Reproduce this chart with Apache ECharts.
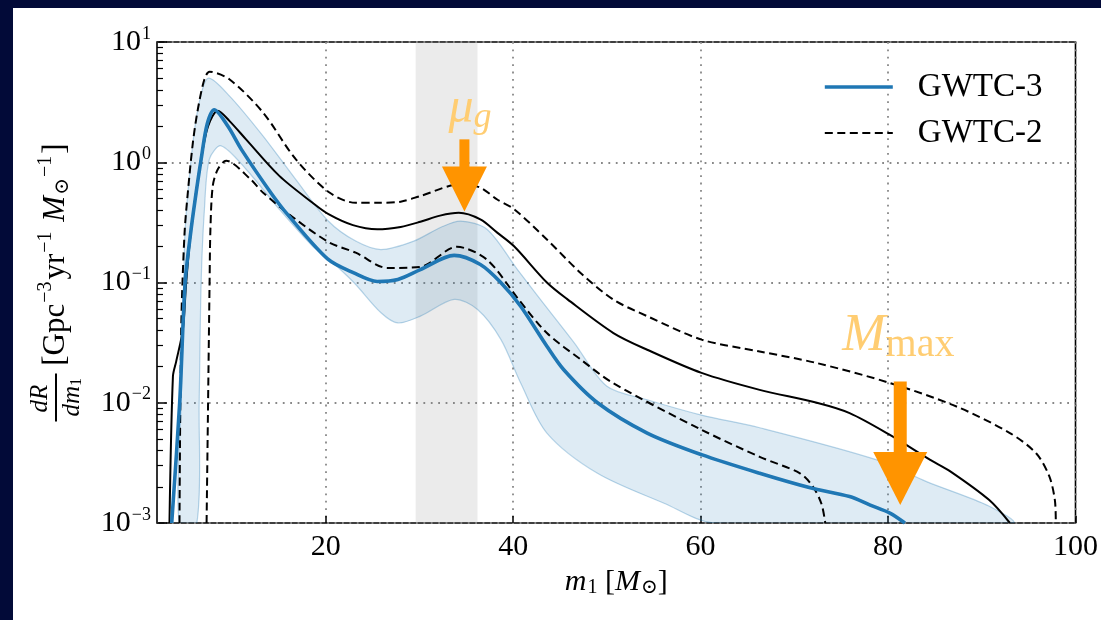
<!DOCTYPE html>
<html>
<head>
<meta charset="utf-8">
<script src="https://cdn.jsdelivr.net/npm/echarts@6/dist/echarts.min.js"></script>
<style>
html, body { margin: 0; padding: 0; width: 1101px; height: 620px; overflow: hidden; background: #020a38; }
#main { position: absolute; left: 13px; top: 8px; width: 1088px; height: 612px; background: #fff; }
</style>
</head>
<body>
<div id="main"></div>
<script>
// [m1, dR/dm1]
var gwtc3Median = [[3.57, 0.001], [4.42, 0.01], [5.0, 0.1], [5.64, 0.277], [6.18, 0.562], [6.71, 1.06], [7.35, 2.07],
    [8.1, 2.73], [9.55, 2.0], [11.0, 1.28], [14.2, 0.55], [15.9, 0.37], [20.2, 0.157], [23.0, 0.12],
    [25.5, 0.102], [27.7, 0.106], [30.1, 0.128], [33.7, 0.168], [36.5, 0.141], [38.7, 0.0995], [40.8, 0.0635],
    [43.6, 0.0295], [45.4, 0.0188], [49.0, 0.01], [54.3, 0.0056], [60.1, 0.0037], [66.3, 0.00259], [71.7, 0.00196],
    [75.9, 0.00166], [78.1, 0.00141], [80.2, 0.00121], [81.8, 0.001]];
var gwtc3Upper = [[4.37, 0.001], [4.58, 0.01], [4.85, 0.1], [5.0, 0.277], [5.64, 1.06], [6.36, 2.76], [7.45, 5.0],
    [9.72, 3.57], [13.3, 1.66], [16.8, 0.72], [20.3, 0.323], [23.2, 0.221], [25.9, 0.188], [29.4, 0.221],
    [32.3, 0.288], [34.4, 0.324], [37.2, 0.277], [40.4, 0.13], [42.9, 0.0724], [46.5, 0.0316], [50.0, 0.0137],
    [54.3, 0.0106], [60.1, 0.0079], [66.3, 0.0062], [78.8, 0.00335], [84.1, 0.00221], [90.8, 0.00138], [93.3, 0.001]];
var gwtc3Lower = [[6.25, 0.001], [6.5, 0.01], [6.71, 0.1], [7.06, 0.407], [7.59, 1.06], [8.84, 1.37], [11.5, 0.875],
    [15.05, 0.406], [18.6, 0.2], [20.2, 0.16], [23.0, 0.1], [25.9, 0.056], [27.7, 0.0461], [30.1, 0.0525],
    [33.7, 0.0724], [36.2, 0.0596], [38.7, 0.0335], [40.8, 0.0146], [43.6, 0.0056], [49.0, 0.00259],
    [56.1, 0.00146], [61.4, 0.001]];
var gwtc2Median = [[3.33, 0.001], [3.7, 0.0166], [4.05, 0.0221], [4.76, 0.0406], [5.11, 0.0995], [5.64, 0.277],
    [6.71, 1.06], [7.45, 2.0], [8.49, 2.68], [9.72, 2.21], [11.5, 1.55], [15.05, 0.77], [18.6, 0.46], [20.3, 0.37],
    [22.9, 0.3], [25.5, 0.277], [28.0, 0.29], [30.1, 0.32], [32.2, 0.36], [34.2, 0.38], [36.5, 0.335], [38.3, 0.26],
    [40.1, 0.2], [43.6, 0.1], [45.8, 0.0724], [50.7, 0.038], [54.3, 0.0276], [60.1, 0.0177], [66.3, 0.0128],
    [72.4, 0.01], [75.9, 0.0082], [80.2, 0.0054], [84.5, 0.00335], [86.6, 0.0027], [90.8, 0.00155], [93.0, 0.001]];
var gwtc2Upper = [[4.4, 0.001], [4.58, 0.0406], [4.93, 0.25], [5.29, 0.56], [5.83, 1.46], [6.36, 2.76], [7.06, 4.9],
    [7.6, 5.66], [9.72, 4.9], [13.3, 2.6], [16.8, 1.06], [20.4, 0.56], [23.2, 0.46], [25.5, 0.46], [28.0, 0.47],
    [30.1, 0.524], [34.4, 0.656], [36.5, 0.615], [38.3, 0.49], [40.1, 0.407], [43.6, 0.228], [47.2, 0.12],
    [50.7, 0.072], [54.3, 0.0525], [60.1, 0.0335], [66.3, 0.0267], [72.4, 0.0214], [80.2, 0.0146], [87.3, 0.0093],
    [93.0, 0.0056], [95.8, 0.0038], [97.2, 0.00245], [97.8, 0.00155], [97.9, 0.001]];
var gwtc2Lower = [[7.29, 0.001], [7.45, 0.01], [7.61, 0.1], [7.7, 0.277], [7.95, 0.634], [8.49, 0.874], [9.37, 1.03],
    [12.0, 0.72], [13.3, 0.56], [16.8, 0.335], [20.4, 0.215], [23.2, 0.177], [26.6, 0.132], [30.1, 0.135],
    [34.0, 0.198], [37.2, 0.155], [40.6, 0.072], [43.6, 0.038], [47.2, 0.0229], [50.7, 0.0145], [60.1, 0.00596],
    [66.3, 0.00355], [70.6, 0.00259], [72.0, 0.002], [72.9, 0.00144], [73.3, 0.001]];

var peakWindow = [29.6, 36.2];
// [m1, tail, tip]
var arrows = [[34.8, 1.55, 0.39], [81.3, 0.015, 0.00141]];
var arrowLabels = [['μ', 'g'], ['M', 'max']];

var xTicks = [20, 40, 60, 80, 100];
var yTicks = [0.001, 0.01, 0.1, 1, 10];
var yMinorTicks = [0.002, 0.003, 0.004, 0.005, 0.006, 0.007, 0.008, 0.009,
    0.02, 0.03, 0.04, 0.05, 0.06, 0.07, 0.08, 0.09,
    0.2, 0.3, 0.4, 0.5, 0.6, 0.7, 0.8, 0.9,
    2, 3, 4, 5, 6, 7, 8, 9];

var serif = "'Liberation Serif', 'DejaVu Serif', serif";
var blue = '#1f77b4';
var orange = '#ff9400';
var labelOrange = '#ffcd72';
var gridStyle = { color: '#888', width: 1.8, type: [1.8, 5.6] };
var arrowSize = [
    { shaft: 10, headW: 45, headL: 45, lx: -16, ly: -4, big: 50, small: 36 },
    { shaft: 13, headW: 54, headL: 53, lx: -58, ly: -16, big: 52, small: 40 }
];

var myChart = echarts.init(document.getElementById('main'));

var option = {
    animation: false,
    grid: { left: 144, top: 34, right: 23, bottom: 97, show: true, borderColor: '#000', borderWidth: 1.6 },
    legend: {
        data: [
            { name: 'GWTC-3', lineStyle: { width: 3.6, color: blue } },
            { name: 'GWTC-2', lineStyle: { width: 2, color: '#000', type: [8, 4.5] } }
        ],
        orient: 'vertical',
        left: 805,
        top: 56,
        itemWidth: 68,
        itemHeight: 14,
        itemGap: 10,
        itemStyle: { opacity: 0 },
        textStyle: { fontFamily: serif, fontSize: 33, color: '#000', lineHeight: 36, padding: [0, 0, 0, 20] }
    },
    xAxis: {
        type: 'value',
        min: 2,
        max: 100,
        axisLine: { show: false },
        axisTick: { inside: true, length: 7, customValues: xTicks, lineStyle: { color: '#000', width: 1.5 } },
        axisLabel: { customValues: xTicks, fontFamily: serif, fontSize: 30, color: '#000', margin: 9 },
        splitLine: { show: true, lineStyle: gridStyle },
        name: '{i|m}{sb|1}{t| [}{i|M}{sb|⊙}{t|]}',
        nameLocation: 'middle',
        nameGap: 40,
        nameTextStyle: {
            rich: {
                t: { fontFamily: serif, fontSize: 30, color: '#000' },
                i: { fontFamily: serif, fontSize: 30, fontStyle: 'italic', color: '#000' },
                sb: { fontFamily: serif, fontSize: 20, color: '#000', padding: [12, 0, 0, 1] }
            }
        }
    },
    yAxis: [{
        type: 'log',
        logBase: 10,
        min: 0.001,
        max: 10,
        position: 'left',
        axisLine: { show: false },
        axisTick: { inside: true, length: 10, customValues: yTicks, lineStyle: { color: '#000', width: 1.5 } },
        axisLabel: {
            customValues: yTicks,
            margin: 6,
            formatter: function (v) {
                var e = Math.round(Math.log10(v));
                return '{b|10}{s|' + String(e).replace('-', '−') + '}';
            },
            rich: {
                b: { fontFamily: serif, fontSize: 30, color: '#000' },
                s: { fontFamily: serif, fontSize: 18, color: '#000', padding: [0, 0, 16, 1] }
            }
        },
        splitLine: { show: true, lineStyle: gridStyle },
        name: '{num|dR}\n{bar| }{t| [Gpc}{sup|−3}{t|yr}{sup|−1}{t| }{i|M}{sub|⊙}{sup|−1}{t|]}\n{den|dm}{dsub|1}',
        nameLocation: 'middle',
        nameRotate: 90,
        nameGap: 76,
        nameTextStyle: {
            rich: {
                num: { fontFamily: serif, fontSize: 25, fontStyle: 'italic', color: '#000', lineHeight: 18, align: 'left', padding: [0, 0, 0, 9] },
                bar: { width: 48, height: 2, backgroundColor: '#000', lineHeight: 14, align: 'left' },
                t: { fontFamily: serif, fontSize: 31, color: '#000', lineHeight: 14, align: 'left' },
                i: { fontFamily: serif, fontSize: 31, fontStyle: 'italic', color: '#000', lineHeight: 14, align: 'left' },
                sup: { fontFamily: serif, fontSize: 20, color: '#000', lineHeight: 14, align: 'left', padding: [0, 2, 20, 1] },
                sub: { fontFamily: serif, fontSize: 20, color: '#000', lineHeight: 14, align: 'left', padding: [14, 0, 0, 1] },
                den: { fontFamily: serif, fontSize: 25, fontStyle: 'italic', color: '#000', lineHeight: 18, align: 'left', padding: [0, 0, 0, 5] },
                dsub: { fontFamily: serif, fontSize: 16, color: '#000', lineHeight: 18, align: 'left', padding: [9, 0, 0, 0] }
            }
        }
    }, {
        type: 'log',
        logBase: 10,
        min: 0.001,
        max: 10,
        position: 'left',
        offset: 0,
        axisLine: { show: false },
        axisTick: { inside: true, length: 6, customValues: yMinorTicks, lineStyle: { color: '#000', width: 1.2 } },
        axisLabel: { show: false },
        splitLine: { show: false }
    }],
    series: [{
        name: 'window',
        type: 'line',
        data: [],
        z: 1,
        silent: true,
        markArea: {
            silent: true,
            itemStyle: { color: 'rgba(128,128,128,0.16)' },
            data: [[{ xAxis: peakWindow[0] }, { xAxis: peakWindow[1] }]]
        }
    }, {
        name: 'GWTC-3 90%',
        type: 'custom',
        z: 2,
        clip: true,
        silent: true,
        data: [[50, 0.01]],
        renderItem: function (params, api) {
            var pts = [];
            gwtc3Upper.forEach(function (p) { pts.push(api.coord(p)); });
            gwtc3Lower.slice().reverse().forEach(function (p) { pts.push(api.coord(p)); });
            return {
                type: 'polygon',
                shape: { points: pts, smooth: 0.3 },
                style: { fill: 'rgba(31,119,180,0.15)', stroke: 'rgba(31,119,180,0.3)', lineWidth: 1.2 }
            };
        }
    }, {
        name: 'GWTC-2',
        type: 'line',
        z: 3,
        data: gwtc2Upper,
        smooth: 0.3,
        symbol: 'none',
        lineStyle: { color: '#000', width: 2, type: [8, 4.5] },
        itemStyle: { color: '#000' }
    }, {
        name: 'GWTC-2',
        type: 'line',
        z: 3,
        data: gwtc2Lower,
        smooth: 0.3,
        symbol: 'none',
        lineStyle: { color: '#000', width: 2, type: [8, 4.5] },
        itemStyle: { color: '#000' }
    }, {
        name: 'GWTC-2 median',
        type: 'line',
        z: 3,
        data: gwtc2Median,
        smooth: 0.3,
        symbol: 'none',
        lineStyle: { color: '#000', width: 2 },
        itemStyle: { color: '#000' }
    }, {
        name: 'GWTC-3',
        type: 'line',
        z: 4,
        data: gwtc3Median,
        smooth: 0.3,
        symbol: 'none',
        lineStyle: { color: blue, width: 3.6 },
        itemStyle: { color: blue }
    }, {
        name: 'arrows',
        type: 'custom',
        z: 6,
        clip: false,
        silent: true,
        data: arrows,
        encode: { x: 0, y: [1, 2] },
        renderItem: function (params, api) {
            var i = params.dataIndex;
            var s = arrowSize[i];
            var tail = api.coord([api.value(0), api.value(1)]);
            var tip = api.coord([api.value(0), api.value(2)]);
            var x = tip[0];
            var base = tip[1] - s.headL;
            return {
                type: 'group',
                children: [{
                    type: 'rect',
                    shape: { x: x - s.shaft / 2, y: tail[1], width: s.shaft, height: base - tail[1] + 1 },
                    style: { fill: orange }
                }, {
                    type: 'polygon',
                    shape: { points: [[x - s.headW / 2, base], [x + s.headW / 2, base], [x, tip[1]]] },
                    style: { fill: orange }
                }, {
                    type: 'text',
                    x: x + s.lx,
                    y: tail[1] + s.ly,
                    style: {
                        text: '{a|' + arrowLabels[i][0] + '}{b|' + arrowLabels[i][1] + '}',
                        align: 'left',
                        verticalAlign: 'bottom',
                        rich: {
                            a: { fontFamily: serif, fontSize: s.big, fontStyle: 'italic', fill: labelOrange },
                            b: { fontFamily: serif, fontSize: s.small, fontStyle: i === 0 ? 'italic' : 'normal', fill: labelOrange, padding: [s.small * 0.45, 0, 0, 0] }
                        }
                    }
                }]
            };
        }
    }]
};
myChart.setOption(option);
</script>
</body>
</html>
